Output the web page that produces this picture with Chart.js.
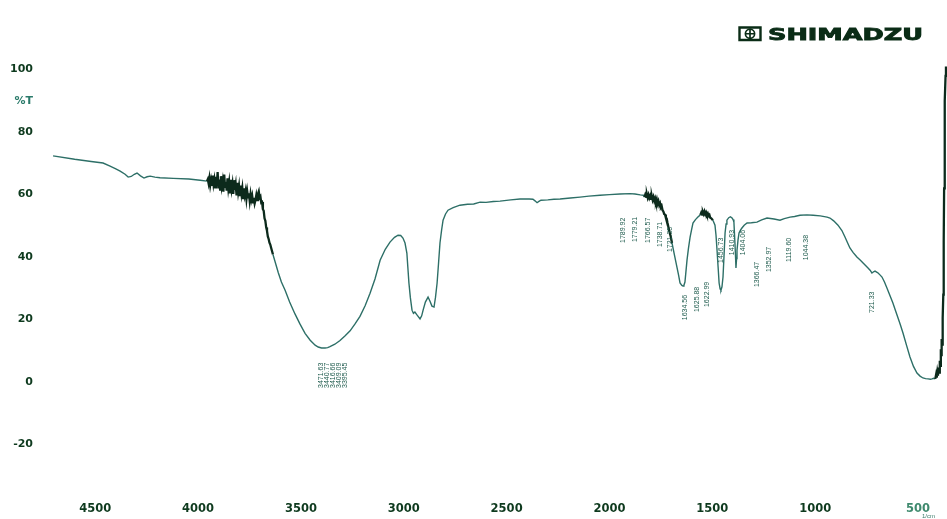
<!DOCTYPE html>
<html>
<head>
<meta charset="utf-8">
<title>FTIR spectrum</title>
<script src="https://cdn.jsdelivr.net/npm/chart.js@4.4.1/dist/chart.umd.min.js"></script>
<style>
  html, body { margin: 0; padding: 0; background: #ffffff; }
  #wrap { width: 947px; height: 519px; position: relative; }
</style>
</head>
<body>
<div id="wrap"><canvas id="ir"></canvas></div>
<script>
// Wavenumber (cm-1), high to low
const wavenumber = [
  4705, 4600, 4520, 4462, 4428, 4400, 4379, 4355, 4340, 4325, 4310, 4297, 4280, 4263, 4248, 4233, 4210, 4185, 4120, 4045, 3990, 3957,
  3953, 3949, 3945, 3941, 3937, 3933, 3929, 3925, 3921, 3917, 3913, 3909, 3905, 3901, 3897, 3893, 3889, 3885, 3881, 3877,
  3873, 3869, 3865, 3861, 3857, 3853, 3849, 3845, 3841, 3837, 3833, 3829, 3825, 3821, 3817, 3813, 3809, 3805, 3801, 3797,
  3793, 3789, 3785, 3781, 3777, 3773, 3769, 3765, 3761, 3757, 3753, 3749, 3745, 3741, 3737, 3733, 3729, 3725, 3721, 3717,
  3713, 3709, 3705, 3701, 3697, 3693, 3689, 3685, 3681, 3677, 3673, 3669, 3665, 3661, 3657, 3653, 3649, 3645,
  3636, 3626, 3610, 3595, 3577, 3555, 3529, 3505, 3480, 3455, 3431, 3416, 3400, 3383, 3370, 3359, 3335, 3310, 3285, 3261,
  3237, 3213, 3188, 3164, 3140, 3115, 3090, 3067, 3045, 3028, 3015, 3004, 2994, 2985, 2980, 2975, 2968, 2960, 2953, 2946,
  2935, 2921, 2913, 2906, 2895, 2882, 2872, 2863, 2853, 2846, 2838, 2831, 2824, 2816, 2809, 2797, 2785, 2760, 2727, 2690,
  2660, 2629, 2600, 2565, 2532, 2480, 2435, 2390, 2372, 2362, 2352, 2343, 2333, 2300, 2270, 2240, 2190, 2143, 2100, 2046,
  2000, 1949, 1900, 1876, 1850, 1835,
  1830, 1826, 1822, 1818, 1814, 1810, 1806, 1802, 1798, 1794, 1790, 1786, 1782, 1778, 1774, 1770, 1766, 1762, 1758, 1754,
  1750, 1746, 1742, 1738, 1734, 1730, 1726, 1722, 1718, 1714, 1708, 1702, 1696, 1684, 1672, 1664, 1657, 1648, 1642, 1638,
  1633, 1628, 1623, 1616, 1608, 1600, 1594, 1582, 1570, 1558, 1554, 1550, 1546, 1542, 1538, 1534, 1530, 1526, 1522, 1518,
  1514, 1510, 1505, 1497, 1487, 1482, 1477, 1472, 1467, 1462, 1458, 1453, 1448, 1443, 1438, 1433, 1429, 1420, 1412, 1404,
  1399, 1395, 1390, 1387, 1385, 1382, 1380, 1375, 1370, 1363, 1356, 1345, 1331, 1310, 1283, 1260, 1234, 1200, 1171, 1150,
  1122, 1100, 1074, 1040, 1010, 975, 942, 928, 910, 889, 870, 855, 842, 831, 815, 797, 780, 767, 755, 743,
  733, 724, 716, 709, 701, 694, 685, 675, 663, 651, 636, 622, 610, 597, 585, 573, 556, 539, 522, 505,
  490, 476, 463, 451, 440, 432, 424, 416, 412, 409, 406, 403, 400, 397, 394, 391, 389, 387, 385, 383,
  381, 379, 377, 375, 373, 371, 369, 366, 364
];

// Transmittance (%T) at each wavenumber above
const transmittance = [
  72.4, 71.3, 70.6, 70.1, 69.1, 68.2, 67.5, 66.5, 65.6, 65.8, 66.5, 66.9, 66.0, 65.3, 65.7, 65.9, 65.6, 65.4, 65.2, 65.0, 64.6, 64.3,
  64.9, 63.6, 65.3, 63.0, 64.6, 62.8, 66.1, 63.4, 64.9, 62.3, 65.7, 63.1, 67.2, 62.0, 64.8, 61.6, 65.9, 62.7, 64.3, 60.9,
  66.4, 62.5, 64.0, 61.3, 65.2, 62.0, 63.9, 60.4, 64.7, 61.8, 63.5, 60.2, 64.6, 61.5, 63.2, 59.7, 63.8, 60.9, 62.7, 59.5,
  62.9, 60.3, 62.1, 58.9, 62.0, 59.8, 61.2, 58.6, 61.0, 59.1, 60.4, 58.0, 60.2, 58.4, 59.6, 57.5, 59.0, 57.2, 58.3, 59.8,
  58.2, 60.2, 61.0, 59.0, 59.4, 57.4, 57.6, 55.3, 54.8, 52.4, 51.6, 49.5, 48.4, 46.6, 45.8, 44.6, 44.0, 43.0,
  40.8, 38.6, 35.0, 32.0, 29.4, 25.6, 21.8, 18.6, 15.6, 13.4, 11.8, 11.2, 10.9, 10.9, 11.0, 11.3, 12.1, 13.3, 14.8, 16.4,
  18.6, 21.0, 24.4, 28.4, 33.0, 39.0, 42.5, 44.8, 46.3, 47.0, 46.9, 46.1, 44.5, 41.3, 36.5, 31.7, 27.0, 23.0, 22.0, 22.4,
  21.4, 20.2, 21.2, 23.0, 25.6, 27.2, 25.8, 24.3, 24.0, 27.0, 31.7, 38.0, 44.5, 48.7, 51.8, 53.8, 55.0, 55.8, 56.6, 56.9,
  57.0, 57.6, 57.5, 57.8, 57.9, 58.3, 58.6, 58.6, 58.5, 58.0, 57.4, 57.8, 58.2, 58.3, 58.5, 58.6, 58.9, 59.2, 59.5, 59.8,
  60.0, 60.2, 60.3, 60.2, 59.9, 59.8,
  59.2, 60.0, 59.3, 60.1, 59.0, 59.9, 58.9, 59.6, 58.6, 59.5, 58.3, 59.2, 58.0, 58.8, 57.6, 58.5, 57.1, 57.9, 56.6, 57.2,
  55.9, 56.3, 55.0, 54.6, 53.8, 53.6, 52.6, 52.4, 51.0, 49.8, 48.0, 46.5, 44.5, 40.6, 36.8, 34.2, 31.7, 30.9, 30.7, 31.0,
  32.0, 35.5, 39.0, 42.8, 46.4, 49.0, 50.9, 52.0, 52.8, 53.5, 54.2, 53.6, 54.5, 53.8, 54.6, 53.7, 54.3, 53.5, 54.0, 53.2,
  53.5, 52.6, 52.4, 51.8, 50.2, 47.0, 42.2, 37.0, 31.7, 29.8, 29.4, 30.5, 33.6, 40.5, 47.7, 50.6, 51.8, 52.6, 52.9, 52.5,
  52.0, 51.2, 44.5, 40.0, 36.5, 39.5, 42.2, 45.5, 47.7, 48.6, 49.3, 50.2, 50.9, 51.0, 51.2, 51.9, 52.5, 52.2, 51.8, 52.3,
  52.8, 53.0, 53.4, 53.5, 53.4, 53.2, 52.8, 52.5, 51.6, 50.2, 48.5, 46.4, 44.5, 42.9, 41.4, 40.0, 39.0, 38.1, 37.3, 36.5,
  35.8, 34.9, 35.3, 35.5, 35.2, 34.9, 34.3, 33.6, 32.0, 30.1, 27.6, 25.3, 23.0, 20.5, 18.2, 15.7, 11.8, 8.0, 5.0, 2.9,
  1.9, 1.3, 1.1, 1.0, 0.9, 1.0, 1.2, 1.0, 2.4, 1.4, 3.2, 2.0, 4.6, 3.0, 6.8, 5.2, 10.5, 8.6, 13.8, 12.0,
  17.5, 20.5, 28.0, 45.0, 62.0, 78.0, 90.0, 98.0, 101.0
];

// Axis ticks
const xTickValues = [4500, 4000, 3500, 3000, 2500, 2000, 1500, 1000, 500];
const yTickValues = [100, 90, 80, 60, 40, 20, 0, -20];
const yTickLabels = ['100', '%T', '80', '60', '40', '20', '0', '-20'];

// Peak annotations (cm-1)
const peakTexts = [
  '3471.63', '3440.77', '3416.66', '3409.09', '3395.45',
  '1789.92', '1779.21', '1766.57', '1738.71', '1721.35',
  '1634.56', '1625.88', '1622.99',
  '1456.73', '1410.93', '1404.06',
  '1366.47', '1352.97',
  '1119.60', '1044.38',
  '721.33'
];

// Where each peak label sits: [wavenumber of its column, %T at the start of the text]
const peakTextSpots = [
  [3402, -1.9], [3373, -1.9], [3344, -1.9], [3315, -1.9], [3286, -1.9],
  [1934, 44.5], [1876, 44.8], [1813, 44.5], [1754, 43.2], [1706, 41.6],
  [1633, 19.8], [1574, 22.4], [1526, 24.0],
  [1458, 38.1], [1404, 40.6], [1351, 40.6],
  [1283, 30.4], [1224, 35.2],
  [1127, 38.4], [1044, 39.0],
  [724, 22.1]
];

// Ranges where the trace is recorded with heavy noise and drawn darker/thicker
const noisyRanges = [[3960, 3640], [1834, 1700], [1560, 1505], [418, 364]];

const points = wavenumber.map((w, i) => ({ x: w, y: transmittance[i] }));

const inNoisy = (w) => noisyRanges.some(([hi, lo]) => w <= hi && w >= lo);

const peakLabelPlugin = {
  id: 'peakLabels',
  afterDatasetsDraw(chart) {
    const { ctx, scales: { x, y } } = chart;
    ctx.save();
    ctx.font = '7px "Liberation Sans", Arial, sans-serif';
    ctx.fillStyle = '#1d5a4c';
    ctx.textAlign = 'left';
    ctx.textBaseline = 'middle';
    peakTexts.forEach((t, i) => {
      const [w, tv] = peakTextSpots[i];
      ctx.save();
      ctx.translate(x.getPixelForValue(w), y.getPixelForValue(tv));
      ctx.rotate(-Math.PI / 2);
      ctx.fillText(t, 0, 0);
      ctx.restore();
    });
    ctx.restore();
  }
};

const brandPlugin = {
  id: 'brand',
  afterDraw(chart) {
    const { ctx } = chart;
    ctx.save();
    const ink = '#0a2c16';
    // emblem
    ctx.strokeStyle = ink;
    ctx.lineWidth = 2.4;
    ctx.beginPath();
    ctx.rect(739.5, 27.5, 21, 12.5);
    ctx.stroke();
    ctx.lineWidth = 1.7;
    ctx.beginPath();
    ctx.arc(750, 33.75, 4.6, 0, Math.PI * 2);
    ctx.stroke();
    ctx.beginPath();
    ctx.moveTo(745.4, 33.75); ctx.lineTo(754.6, 33.75);
    ctx.moveTo(750, 29.2); ctx.lineTo(750, 38.3);
    ctx.stroke();
    // wordmark
    ctx.fillStyle = ink;
    ctx.font = 'bold 15px "DejaVu Sans", sans-serif';
    ctx.textBaseline = 'alphabetic';
    ctx.textAlign = 'left';
    const word = 'SHIMADZU';
    const w = ctx.measureText(word).width;
    ctx.translate(768, 39.5);
    ctx.scale(155 / w, 1);
    ctx.lineWidth = 0.8;
    ctx.strokeStyle = ink;
    ctx.strokeText(word, 0, 0);
    ctx.fillText(word, 0, 0);
    ctx.restore();

    // unit under the last x tick
    ctx.save();
    ctx.font = '6px "Liberation Sans", Arial, sans-serif';
    ctx.fillStyle = '#3a7a6a';
    ctx.textAlign = 'left';
    ctx.textBaseline = 'top';
    ctx.fillText('1/cm', 922, 513);
    ctx.restore();
  }
};

new Chart(document.getElementById('ir'), {
  type: 'line',
  data: {
    datasets: [{
      data: points,
      borderColor: '#2d6f67',
      borderWidth: 1.4,
      pointRadius: 0,
      tension: 0,
      fill: false,
      segment: {
        borderColor: (c) => inNoisy(c.p0.parsed.x) ? '#0c2a1c' : '#2d6f67',
        borderWidth: (c) => inNoisy(c.p0.parsed.x) ? 2.3 : 1.4
      }
    }]
  },
  options: {
    responsive: true,
    maintainAspectRatio: false,
    animation: false,
    devicePixelRatio: 1,
    layout: { padding: { top: 54, left: 0, right: 0, bottom: 0 } },
    plugins: {
      legend: { display: false },
      tooltip: { enabled: false }
    },
    scales: {
      x: {
        type: 'linear',
        reverse: true,
        min: 359,
        max: 4720,
        grid: { display: false, drawTicks: false },
        border: { display: false },
        afterBuildTicks: (s) => { s.ticks = xTickValues.map((v) => ({ value: v })); },
        afterFit: (s) => { s.height = 24.5; },
        ticks: {
          autoSkip: false,
          maxRotation: 0,
          padding: 8,
          font: { family: '"DejaVu Sans", sans-serif', size: 11.5, weight: 'bold' },
          color: (c) => (c.tick && c.tick.value === 500) ? '#3f8a6e' : '#0e3a1e',
          callback: (v) => String(v)
        }
      },
      y: {
        type: 'linear',
        min: -36,
        max: 105,
        grid: { display: false, drawTicks: false },
        border: { display: false },
        afterBuildTicks: (s) => { s.ticks = yTickValues.map((v) => ({ value: v })); },
        afterFit: (s) => { s.width = 50; },
        ticks: {
          autoSkip: false,
          padding: 17,
          crossAlign: 'near',
          font: { family: '"DejaVu Sans", sans-serif', size: 11, weight: 'bold' },
          color: (c) => (c.tick && c.tick.value === 90) ? '#2a7a6a' : '#0e3a1e',
          callback: (v) => yTickLabels[yTickValues.indexOf(v)]
        }
      }
    }
  },
  plugins: [peakLabelPlugin, brandPlugin]
});
</script>
</body>
</html>
